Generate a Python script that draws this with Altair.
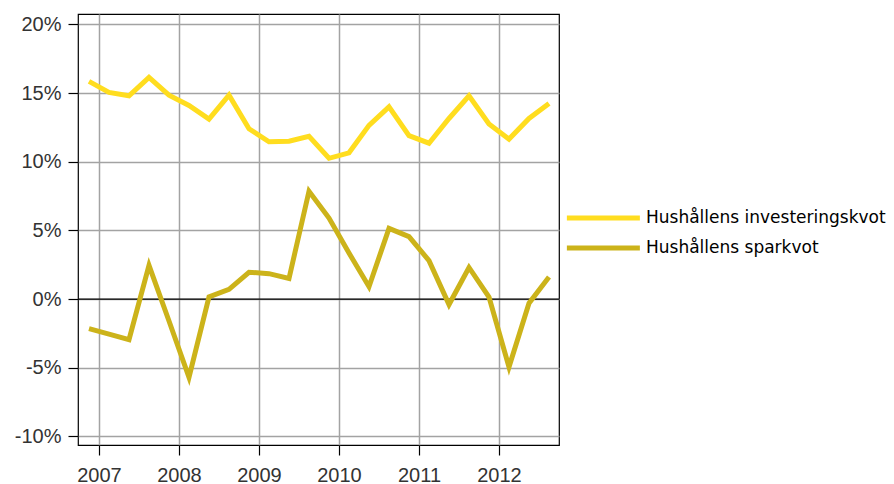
import altair as alt
import pandas as pd

years = [2007, 2008, 2009, 2010, 2011, 2012]
quarters = [1, 2, 3, 4]
kvartal = [f"{y}K{q}" for y in years for q in quarters]

investeringskvot = [15.85, 15.05, 14.8, 16.15, 14.85, 14.1, 13.1, 14.85, 12.4, 11.45,
                    11.5, 11.85, 10.25, 10.65, 12.65, 14.0, 11.9, 11.35, 13.15, 14.8,
                    12.75, 11.65, 13.15, 14.25]
sparkvot = [-2.15, -2.55, -2.95, 2.45, -1.6, -5.7, 0.15, 0.7, 1.95, 1.85,
            1.5, 7.85, 5.9, 3.35, 0.9, 5.15, 4.55, 2.8, -0.4, 2.3,
            0.15, -4.95, -0.3, 1.6]

series_names = ["Hushållens investeringskvot", "Hushållens sparkvot"]
series_colors = ["#FFDD1F", "#CCB31A"]
y_ticks = [-10, -5, 0, 5, 10, 15, 20]

rows = []
for i, k in enumerate(kvartal):
    rows.append({"idx": i, "kvartal": k, "serie": series_names[0], "value": investeringskvot[i]})
    rows.append({"idx": i, "kvartal": k, "serie": series_names[1], "value": sparkvot[i]})
df = pd.DataFrame(rows)

x_tick_values = [len(quarters) * i + 0.5 for i in range(len(years))]

x_enc = alt.X(
    "idx:Q",
    scale=alt.Scale(domain=[-0.55, 23.5], nice=False, zero=False),
    axis=alt.Axis(
        values=x_tick_values,
        labelExpr=f"'' + ({years[0]} + floor(datum.value / {len(quarters)}))",
        title=None,
        labelPadding=10,
    ),
)
y_enc = alt.Y(
    "value:Q",
    scale=alt.Scale(domain=[-10.63, 20.76], nice=False, zero=False),
    axis=alt.Axis(values=y_ticks, labelExpr="datum.value + '%'", title=None, labelPadding=7),
)

lines = alt.Chart(df).mark_line(strokeWidth=5).encode(
    x=x_enc,
    y=y_enc,
    color=alt.Color(
        "serie:N",
        scale=alt.Scale(domain=series_names, range=series_colors),
        sort=series_names,
        legend=alt.Legend(
            title=None,
            orient="none",
            legendX=486,
            legendY=192,
            symbolType="M-1,0H7",
            symbolSize=333,
            symbolStrokeWidth=5,
            labelFont="DejaVu Sans",
            labelFontSize=17,
            labelColor="#000000",
            labelOffset=58,
            labelLimit=0,
            rowPadding=8,
        ),
    ),
    order="idx:Q",
)

zero = alt.Chart(pd.DataFrame({"value": [0]})).mark_rule(color="#000000", strokeWidth=1.2).encode(
    y=alt.Y("value:Q")
)

chart = (
    alt.layer(zero, lines)
    .properties(
        width=481,
        height=431,
        padding={"left": 70, "top": 6, "right": 327, "bottom": 39},
        autosize=alt.AutoSizeParams(type="none"),
        background="#ffffff",
    )
    .configure_view(stroke="#000000", strokeWidth=1.2)
    .configure_axis(
        domain=False,
        grid=True,
        gridColor="#A3A3A3",
        gridWidth=1.5,
        tickColor="#000000",
        tickSize=10,
        tickWidth=1.2,
        labelFont="Liberation Sans",
        labelFontSize=20,
        labelColor="#333333",
    )
)

chart.save("out.html", embed_options={"renderer": "svg", "actions": False})
